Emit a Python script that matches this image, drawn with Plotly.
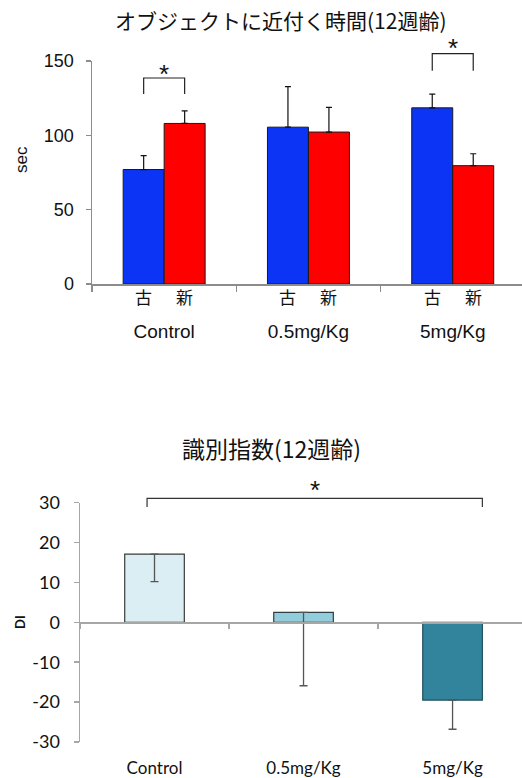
import plotly.graph_objects as go

# ---------------- data ----------------
groups = ["Control", "0.5mg/Kg", "5mg/Kg"]
sub_labels = ["古", "新"]
old_vals = [77.0, 105.5, 118.5]
old_err = [9.3, 27.3, 9.2]
new_vals = [108.0, 102.2, 79.6]
new_err = [8.4, 16.6, 8.0]
sig_pairs_top = [0, 2]          # groups with significant 古 vs 新 difference

di_vals = [17.1, 2.5, -19.5]
di_err = [6.9, 18.4, 7.3]
di_ticks = [-30, -20, -10, 0, 10, 20, 30]
di_ticktext = ["-30", "-20", "-10", "0", "10", "20", "30"]
di_colors = ["#DAEEF3", "#92CDDC", "#31849B"]
di_edge = ["#3a3a3a", "#2f3f44", "#1e4f5c"]
sig_di = (0, 2)

title_top = "オブジェクトに近付く時間(12週齢)"
title_bot = "識別指数(12週齢)"

# ---------------- layout helpers ----------------
W, H = 522, 778
def py(px):
    return 1 - px / H

BW_TOP = 0.284
BW_BOT = 0.40
AX_GRAY = "#8c8c8c"
ARIAL = "Liberation Sans, Arial, sans-serif"
CAL = "Lato, Open Sans, sans-serif"
CJK = "Noto Sans CJK JP, sans-serif"

fig = go.Figure()

fig.add_trace(go.Bar(
    x=groups, y=old_vals, width=BW_TOP, offset=-BW_TOP,
    marker=dict(color="#0B34F4", line=dict(color="#1a1a1a", width=1)),
    error_y=dict(type="data", array=old_err, arrayminus=[0] * 3, symmetric=False,
                 color="#111", thickness=1.2, width=3),
    xaxis="x", yaxis="y", showlegend=False, hoverinfo="skip"))
fig.add_trace(go.Bar(
    x=groups, y=new_vals, width=BW_TOP, offset=0,
    marker=dict(color="#FF0000", line=dict(color="#1a1a1a", width=1)),
    error_y=dict(type="data", array=new_err, arrayminus=[0] * 3, symmetric=False,
                 color="#111", thickness=1.2, width=3),
    xaxis="x", yaxis="y", showlegend=False, hoverinfo="skip"))

fig.add_trace(go.Bar(
    x=groups, y=di_vals, width=BW_BOT, offset=-BW_BOT / 2,
    marker=dict(color=di_colors, line=dict(color=di_edge, width=1.2)),
    error_y=dict(type="data", array=[0] * 3, arrayminus=di_err, symmetric=False,
                 color="#555", thickness=1.3, width=4),
    xaxis="x2", yaxis="y2", showlegend=False, hoverinfo="skip"))

top_dom = [py(284), py(61)]
bot_dom = [py(742), py(502.7)]
zero_pos = bot_dom[0] + (bot_dom[1] - bot_dom[0]) * 0.5

fig.update_layout(
    template="none",
    width=W, height=H,
    margin=dict(l=0, r=0, t=0, b=0, autoexpand=False),
    paper_bgcolor="white", plot_bgcolor="white",
    barmode="overlay",
    xaxis=dict(domain=[92 / W, 1], anchor="y", range=[-0.5, 2.48], automargin=False,
               showline=True, linecolor=AX_GRAY, linewidth=2,
               ticks="outside", tickson="boundaries", ticklen=6, tickcolor=AX_GRAY, tickwidth=1.5,
               showgrid=False, zeroline=False,
               tickfont=dict(family=ARIAL, size=19, color="#111"),
               ticklabelstandoff=29),
    yaxis=dict(domain=top_dom, anchor="x", range=[0, 150], tickvals=[0, 50, 100, 150],
               automargin=False,
               showline=True, linecolor=AX_GRAY, linewidth=1.5,
               ticks="outside", ticklen=5, tickcolor=AX_GRAY, tickwidth=1.5,
               showgrid=False, zeroline=False,
               tickfont=dict(family=ARIAL, size=18, color="#111"),
               ticklabelstandoff=8),
    xaxis2=dict(domain=[80 / W, 1], anchor="free", position=zero_pos, range=[-0.5, 2.466],
                automargin=False,
                showline=True, linecolor="#a6a6a6", linewidth=1.5,
                ticks="outside", tickson="boundaries", ticklen=5, tickcolor="#a6a6a6", tickwidth=1.5,
                showgrid=False, zeroline=False,
                tickfont=dict(family=CAL, size=17, color="#111"),
                ticklabelstandoff=130),
    yaxis2=dict(domain=bot_dom, anchor="x2", range=[-30, 30],
                tickvals=di_ticks, ticktext=di_ticktext, automargin=False,
                showline=True, linecolor="#a6a6a6", linewidth=1.5,
                ticks="outside", ticklen=5, tickcolor="#a6a6a6", tickwidth=1.5,
                showgrid=False, zeroline=False,
                tickfont=dict(family=CAL, size=18, color="#111"),
                ticklabelstandoff=10),
)

ann = []
# titles
ann.append(dict(text=title_top, x=280.5 / W, y=py(20), xref="paper", yref="paper",
                showarrow=False, font=dict(family=CJK, size=21, color="#111"),
                xanchor="center", yanchor="middle"))
ann.append(dict(text=title_bot, x=271 / W, y=py(448), xref="paper", yref="paper",
                showarrow=False, font=dict(family=CJK, size=23, color="#111"),
                xanchor="center", yanchor="middle"))
# axis titles
ann.append(dict(text="sec", x=21 / W, y=py(160), xref="paper", yref="paper", textangle=-90,
                xanchor="center", yanchor="middle",
                showarrow=False, font=dict(family=ARIAL, size=17, color="#111")))
ann.append(dict(text="<b>DI</b>", x=20 / W, y=py(622), xref="paper", yref="paper", textangle=-90,
                xanchor="center", yanchor="middle",
                showarrow=False, font=dict(family=CAL, size=13, color="#111")))
# sub-category labels under each bar
for gi in range(len(groups)):
    for si, lab in enumerate(sub_labels):
        ann.append(dict(text=lab, x=gi + (si - 0.5) * BW_TOP, y=py(297), xref="x", yref="paper",
                        showarrow=False, font=dict(family=CJK, size=17, color="#111"),
                        xanchor="center", yanchor="middle"))

shapes = []
# significance brackets (top)
br_levels = {0: (94, 78, 74), 2: (70.7, 53.7, 48)}
for gi in sig_pairs_top:
    y0, y1, ys = br_levels[gi]
    xl, xr = gi - BW_TOP / 2, gi + BW_TOP / 2
    shapes.append(dict(type="path", xref="x", yref="paper",
                       path=f"M {xl},{py(y0)} L {xl},{py(y1)} L {xr},{py(y1)} L {xr},{py(y0)}",
                       line=dict(color="#222", width=1.2)))
    ann.append(dict(text="*", x=gi, y=py(ys), xref="x", yref="paper", showarrow=False,
                    font=dict(family=ARIAL, size=26, color="#111"),
                    xanchor="center", yanchor="middle"))
# significance bracket (bottom)
xl, xr = sig_di[0] - 0.05, sig_di[1] + BW_BOT / 2
shapes.append(dict(type="path", xref="x2", yref="paper",
                   path=f"M {xl},{py(507)} L {xl},{py(498.3)} L {xr},{py(498.3)} L {xr},{py(507)}",
                   line=dict(color="#333", width=1.2)))
ann.append(dict(text="*", x=(xl + xr) / 2, y=py(490), xref="x2", yref="paper", showarrow=False,
                font=dict(family=ARIAL, size=26, color="#111"),
                xanchor="center", yanchor="middle"))

fig.update_layout(annotations=ann, shapes=shapes)
fig.write_html("out.html", config={"displayModeBar": False, "staticPlot": True},
               post_script="document.body.style.margin='0';document.body.style.overflow='hidden';")
